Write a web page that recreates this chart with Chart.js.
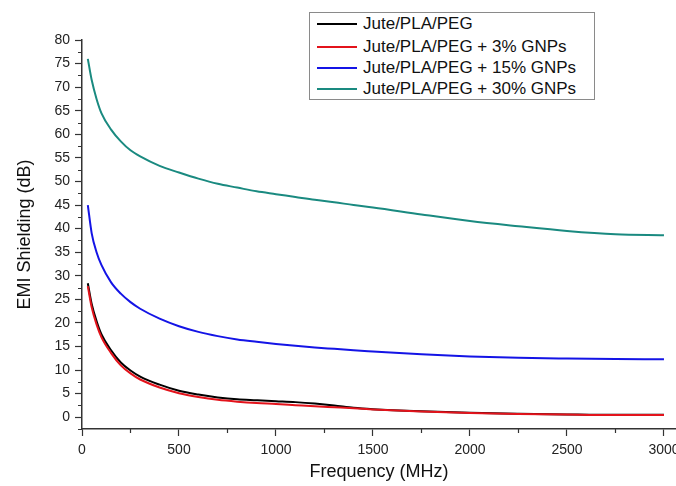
<!DOCTYPE html>
<html>
<head>
<meta charset="utf-8">
<script src="https://cdn.jsdelivr.net/npm/chart.js@4/dist/chart.umd.min.js"></script>
<style>
  html, body { margin: 0; padding: 0; background: #fff; overflow: hidden; }
  #wrap { position: relative; width: 676px; height: 486px; overflow: hidden; }
  #legend {
    position: absolute; left: 309px; top: 12px; width: 284px; height: 86px;
    border: 1px solid #8a8a8a; background: #fff;
    font-family: "Liberation Sans", Arial, sans-serif; font-size: 17px; color: #111;
  }
  #legend .row { position: absolute; left: 0; height: 20px; display: flex; align-items: center; }
  #legend .swatch { width: 40px; height: 2px; margin-left: 7px; margin-right: 6px; }
</style>
</head>
<body>
<div id="wrap">
  <canvas id="chart" width="700" height="486"></canvas>
  <div id="legend"></div>
</div>
<script>
// frequency (MHz)
const freq = [30, 50, 75, 100, 150, 200, 250, 300, 400, 500, 600, 700, 800, 900, 1000,
  1100, 1200, 1300, 1400, 1500, 1750, 2000, 2250, 2500, 2750, 3000];

// EMI shielding (dB) per sample
const jutePla = [28.4, 24.0, 20.4, 17.6, 14.2, 11.6, 9.9, 8.6, 6.9, 5.6, 4.8, 4.2, 3.8, 3.6, 3.4,
  3.2, 2.9, 2.5, 2.0, 1.7, 1.25, 0.95, 0.75, 0.6, 0.5, 0.5];
const gnp3 = [27.8, 23.3, 19.7, 17.0, 13.6, 11.0, 9.3, 8.0, 6.3, 5.1, 4.3, 3.7, 3.3, 3.0, 2.8,
  2.55, 2.3, 2.1, 1.9, 1.65, 1.2, 0.9, 0.7, 0.55, 0.45, 0.45];
const gnp15 = [45.0, 39.0, 35.0, 32.3, 28.6, 26.2, 24.4, 23.0, 20.9, 19.3, 18.1, 17.2, 16.5, 16.0, 15.55,
  15.15, 14.8, 14.5, 14.2, 13.95, 13.35, 12.9, 12.6, 12.45, 12.35, 12.3];
const gnp30 = [76.0, 71.5, 67.5, 64.5, 61.0, 58.5, 56.6, 55.3, 53.3, 51.9, 50.6, 49.5, 48.7, 47.9, 47.3,
  46.7, 46.1, 45.6, 45.0, 44.5, 43.0, 41.6, 40.5, 39.5, 38.8, 38.6];

const seriesNames = ['Jute/PLA/PEG', 'Jute/PLA/PEG + 3% GNPs', 'Jute/PLA/PEG + 15% GNPs', 'Jute/PLA/PEG + 30% GNPs'];
const seriesValues = [jutePla, gnp3, gnp15, gnp30];
const seriesColors = ['#000000', '#e3131b', '#1414e6', '#1a8a80'];
const drawOrder = [1, 0, 2, 3];

const xMajor = [0, 500, 1000, 1500, 2000, 2500, 3000];
const yMajor = [0, 5, 10, 15, 20, 25, 30, 35, 40, 45, 50, 55, 60, 65, 70, 75, 80];

const FONT = '"Liberation Sans", Arial, sans-serif';
const AXIS = '#333';

// short minor ticks halfway between the labelled ones
const minorTicks = {
  id: 'minorTicks',
  afterDraw(chart) {
    const { ctx, scales: { x, y } } = chart;
    ctx.save();
    ctx.strokeStyle = AXIS;
    ctx.lineWidth = 1.2;
    ctx.beginPath();
    for (let i = 0; i < xMajor.length - 1; i++) {
      const px = Math.round(x.getPixelForValue((xMajor[i] + xMajor[i + 1]) / 2)) + 0.5;
      ctx.moveTo(px, y.bottom);
      ctx.lineTo(px, y.bottom + 4);
    }
    for (let i = -1; i < yMajor.length - 1; i++) {
      const v = i < 0 ? yMajor[0] - 2.5 : (yMajor[i] + yMajor[i + 1]) / 2;
      const py = Math.round(y.getPixelForValue(v)) + 0.5;
      ctx.moveTo(x.left, py);
      ctx.lineTo(x.left - 4, py);
    }
    ctx.stroke();
    ctx.restore();
  }
};

new Chart(document.getElementById('chart'), {
  type: 'line',
  data: {
    datasets: seriesNames.map((name, i) => ({
      label: name,
      data: freq.map((f, j) => ({ x: f, y: seriesValues[i][j] })),
      borderColor: seriesColors[i],
      borderWidth: 2,
      pointRadius: 0,
      cubicInterpolationMode: 'monotone',
      order: drawOrder[i]
    }))
  },
  options: {
    responsive: false,
    animation: false,
    layout: { padding: { top: 40, right: 24, left: 0, bottom: 0 } },
    scales: {
      x: {
        type: 'linear',
        min: 0,
        max: 3062,
        afterFit: (s) => { s.height = 57; },
        afterBuildTicks: (s) => { s.ticks = xMajor.map(v => ({ value: v })); },
        border: { color: AXIS, width: 1.5 },
        grid: { drawOnChartArea: false, drawTicks: true, tickLength: 7, color: AXIS, tickWidth: 1.2 },
        ticks: {
          padding: 6, maxRotation: 0, autoSkip: false,
          callback: (v) => String(v),
          color: '#222', font: { family: FONT, size: 14 }
        },
        title: {
          display: true, text: 'Frequency (MHz)', color: '#111',
          font: { family: FONT, size: 18 }, padding: { top: 0, bottom: 3 }
        }
      },
      y: {
        min: -2.5,
        max: 80,
        afterFit: (s) => { s.width = 82; },
        afterBuildTicks: (s) => { s.ticks = yMajor.map(v => ({ value: v })); },
        border: { color: AXIS, width: 1.5 },
        grid: { drawOnChartArea: false, drawTicks: true, tickLength: 7, color: AXIS, tickWidth: 1.2 },
        ticks: {
          padding: 5, autoSkip: false,
          callback: (v) => String(v),
          color: '#222', font: { family: FONT, size: 14 }
        },
        title: {
          display: true, text: 'EMI Shielding (dB)', color: '#111',
          font: { family: FONT, size: 18 }, padding: { top: 14, bottom: 0 }
        }
      }
    },
    plugins: {
      legend: { display: false },
      tooltip: { enabled: false }
    }
  },
  plugins: [minorTicks]
});

// legend box
const legendEl = document.getElementById('legend');
const rowTops = [1, 24, 45, 66];
seriesNames.forEach((name, i) => {
  const row = document.createElement('div');
  row.className = 'row';
  row.style.top = rowTops[i] + 'px';
  row.innerHTML = `<span class="swatch" style="background:${seriesColors[i]}"></span><span>${name}</span>`;
  legendEl.appendChild(row);
});
</script>
</body>
</html>
